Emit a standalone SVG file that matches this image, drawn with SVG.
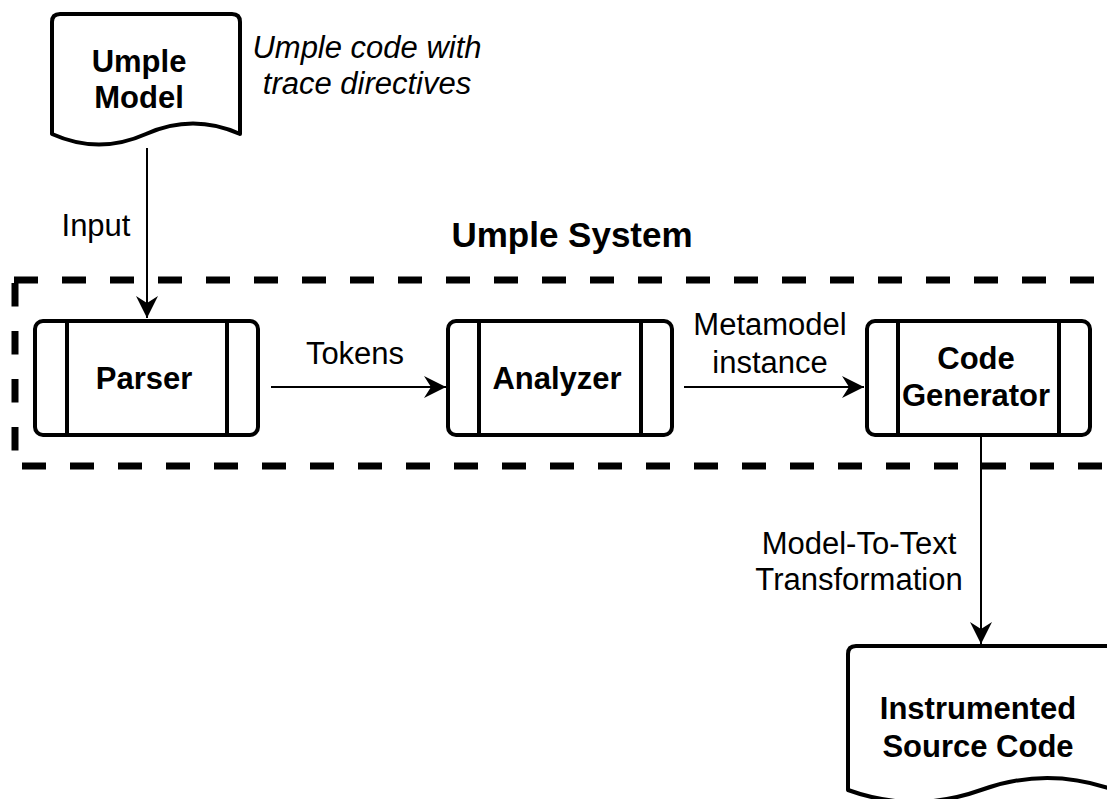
<svg xmlns="http://www.w3.org/2000/svg" width="1107" height="799" viewBox="0 0 1107 799">
<style>
.box{fill:#fff;stroke:#000;stroke-width:4;stroke-linejoin:round}
.bar{stroke:#000;stroke-width:4;fill:none}
.lbl{font-family:"Liberation Sans",Arial,Helvetica,sans-serif;font-size:31px;fill:#000;text-anchor:middle}
.b{font-weight:bold}
.it{font-style:italic}
.edge{stroke:#000;stroke-width:2;fill:none}
.dash{stroke:#000;stroke-width:7;fill:none;stroke-dasharray:24 24}
</style>
<defs>
<marker id="arr" viewBox="-24 -13 26 26" refX="0" refY="0" markerWidth="26" markerHeight="26" markerUnits="userSpaceOnUse" orient="auto">
<path d="M0,0 L-22,-11 L-15,0 L-22,11 Z" fill="#000"/>
</marker>
</defs>
<g id="boundary">
<path class="dash" d="M14,280 H1107"/>
<path class="dash" d="M15,283 V466" style="stroke-dasharray:23.5 24.5"/>
<path class="dash" d="M22,466 H1107"/>
<text class="lbl b" x="572" y="247" style="font-size:35px">Umple System</text>
</g>
<g id="connectors">
<path class="edge" d="M147,148 V318" marker-end="url(#arr)"/>
<path class="edge" d="M271,387 H446" marker-end="url(#arr)"/>
<path class="edge" d="M684,387 H864" marker-end="url(#arr)"/>
<path class="edge" d="M981,437 V644" marker-end="url(#arr)"/>
<text class="lbl" x="96" y="236">Input</text>
<text class="lbl" x="355" y="364">Tokens</text>
<text class="lbl" x="770" y="335">Metamodel</text>
<text class="lbl" x="770" y="373">instance</text>
<text class="lbl" x="859" y="554">Model-To-Text</text>
<text class="lbl" x="859" y="590">Transformation</text>
</g>
<g id="umple-model">
<path class="box" d="M52,22 Q52,14 60,14 L232,14 Q240,14 240,22 L240,134 Q193,113 146,134 Q99,155 52,134 Z"/>
<text class="lbl b" x="139" y="72">Umple</text>
<text class="lbl b" x="139" y="108">Model</text>
</g>
<g id="note">
<text class="lbl it" x="367" y="58">Umple code with</text>
<text class="lbl it" x="367" y="94">trace directives</text>
</g>
<g id="parser">
<rect class="box" x="35" y="321" width="223" height="114" rx="8"/>
<path class="bar" d="M67,321 V435 M227,321 V435"/>
<text class="lbl b" x="144" y="389">Parser</text>
</g>
<g id="analyzer">
<rect class="box" x="448" y="321" width="224" height="114" rx="8"/>
<path class="bar" d="M479,321 V435 M641,321 V435"/>
<text class="lbl b" x="557" y="389">Analyzer</text>
</g>
<g id="code-generator">
<rect class="box" x="867" y="321" width="223" height="114" rx="8"/>
<path class="bar" d="M898,321 V435 M1059,321 V435"/>
<text class="lbl b" x="976" y="369">Code</text>
<text class="lbl b" x="976" y="406">Generator</text>
</g>
<g id="instrumented-source-code">
<path class="box" d="M848,654 Q848,646 856,646 L1106,646 Q1114,646 1114,654 L1114,790 Q1047,766 981,790 Q914,814 848,790 Z"/>
<text class="lbl b" x="978" y="719">Instrumented</text>
<text class="lbl b" x="978" y="757">Source Code</text>
</g>
</svg>
